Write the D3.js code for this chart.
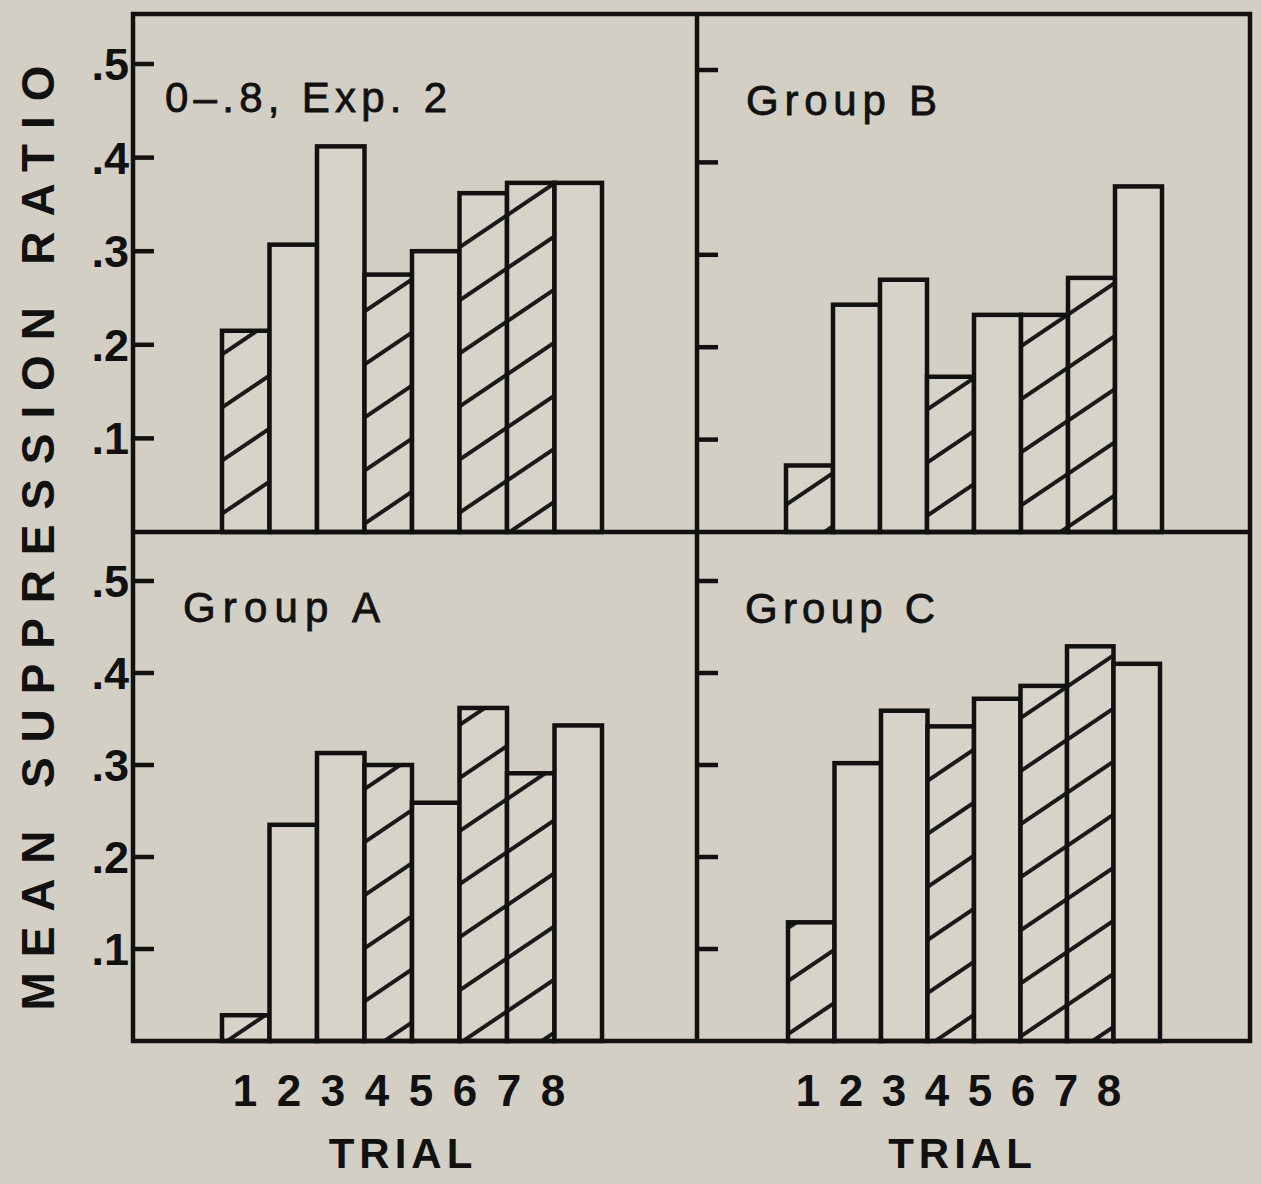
<!DOCTYPE html>
<html>
<head>
<meta charset="utf-8">
<script src="https://cdn.jsdelivr.net/npm/d3@7"></script>
<style>
  html, body { margin: 0; padding: 0; background: #d3cfc4; }
  svg { display: block; }
  text { font-family: "Liberation Sans", Arial, sans-serif; fill: #111; }
</style>
</head>
<body>
<svg id="chart" width="1261" height="1184"></svg>
<script>
// ---- data ----
const trials = [1, 2, 3, 4, 5, 6, 7, 8];
const panelTitles = ["0\u2013.8, Exp. 2", "Group B", "Group A", "Group C"];
const exp2Values   = [0.215, 0.307, 0.412, 0.275, 0.300, 0.362, 0.373, 0.373];
const groupBValues = [0.072, 0.246, 0.273, 0.168, 0.235, 0.235, 0.275, 0.374];
const groupAValues = [0.028, 0.235, 0.313, 0.300, 0.259, 0.362, 0.291, 0.343];
const groupCValues = [0.129, 0.302, 0.359, 0.342, 0.372, 0.386, 0.429, 0.410];
const hatchedTrials = [true, false, false, true, false, true, true, false];
const yTicks = [0.1, 0.2, 0.3, 0.4, 0.5];
const yTickLabels = [".1", ".2", ".3", ".4", ".5"];
const yAxisTitle = "MEAN SUPPRESSION RATIO";
const xAxisTitle = "TRIAL";

// ---- layout ----
const svg = d3.select("#chart");
const ink = "#111";
const bg = "#d3cfc4";
const barFill = "#d7d3c9";

const defs = svg.append("defs");
const pat = defs.append("pattern")
  .attr("id", "hatch")
  .attr("patternUnits", "userSpaceOnUse")
  .attr("width", 200).attr("height", 44)
  .attr("patternTransform", "rotate(-34)");
pat.append("rect").attr("width", 200).attr("height", 44).attr("fill", barFill);
pat.append("line").attr("x1", 0).attr("x2", 200).attr("y1", 22).attr("y2", 22)
  .attr("stroke", "#1a1a1a").attr("stroke-width", 4.2);

svg.append("rect").attr("width", 1261).attr("height", 1184).attr("fill", bg);

const frame = { left: 133, mid: 697, right: 1250, top: 14, midY: 532, bottom: 1041 };

const panels = [
  { title: panelTitles[0], values: exp2Values,   axisX: frame.left, x0: 222, x1: 602,  base: 532,  top5: 64,  titleX: 165, titleY: 112, titleW: 282, tickLabels: true,  lab0: 245, lab1: 553 },
  { title: panelTitles[1], values: groupBValues, axisX: frame.mid,  x0: 786, x1: 1162, base: 532,  top5: 70,  titleX: 746, titleY: 115, titleW: 191, tickLabels: false, lab0: 808, lab1: 1109 },
  { title: panelTitles[2], values: groupAValues, axisX: frame.left, x0: 222, x1: 602,  base: 1041, top5: 581, titleX: 183, titleY: 622, titleW: 197, tickLabels: true,  lab0: 245, lab1: 553, xAxis: true },
  { title: panelTitles[3], values: groupCValues, axisX: frame.mid,  x0: 788, x1: 1160, base: 1041, top5: 581, titleX: 745, titleY: 623, titleW: 190, tickLabels: false, lab0: 808, lab1: 1109, xAxis: true }
];

panels.forEach(p => {
  const y = d3.scaleLinear().domain([0, 0.5]).range([p.base, p.top5]);
  const x = d3.scaleBand().domain(trials).range([p.x0, p.x1]).padding(0);
  const g = svg.append("g");

  const bars = trials.map((t, i) => ({ t, v: p.values[i], h: hatchedTrials[i] }));
  g.selectAll("rect.bar").data(bars).join("rect")
    .attr("class", "bar")
    .attr("x", d => x(d.t))
    .attr("width", x.bandwidth())
    .attr("y", d => y(d.v))
    .attr("height", d => y(0) - y(d.v))
    .attr("fill", d => d.h ? "url(#hatch)" : barFill)
    .attr("stroke", ink)
    .attr("stroke-width", 4.5)
    .attr("stroke-linejoin", "miter");

  // ticks
  g.selectAll("line.tick").data(yTicks).join("line")
    .attr("x1", p.axisX).attr("x2", p.axisX + 21)
    .attr("y1", d => y(d)).attr("y2", d => y(d))
    .attr("stroke", ink).attr("stroke-width", 4.5);

  if (p.tickLabels) {
    g.selectAll("text.ylab").data(yTicks).join("text")
      .attr("x", 129).attr("y", d => y(d) + 16)
      .attr("text-anchor", "end")
      .attr("font-size", 45).attr("font-weight", "bold")
      .text((d, i) => yTickLabels[i]);
  }

  g.append("text")
    .attr("x", p.titleX).attr("y", p.titleY)
    .attr("font-size", 42)
    .attr("textLength", p.titleW).attr("lengthAdjust", "spacing")
    .attr("stroke", ink).attr("stroke-width", 0.8)
    .text(p.title);

  if (p.xAxis) {
    const xl = d3.scalePoint().domain(trials).range([p.lab0, p.lab1]);
    g.selectAll("text.xlab").data(trials).join("text")
      .attr("x", d => xl(d)).attr("y", 1106)
      .attr("text-anchor", "middle")
      .attr("font-size", 44).attr("font-weight", "bold")
      .text(d => d);
    g.append("text")
      .attr("x", (p.lab0 + p.lab1) / 2 + 4).attr("y", 1168)
      .attr("text-anchor", "middle")
      .attr("font-size", 42).attr("font-weight", "bold")
      .attr("letter-spacing", 5)
      .text(xAxisTitle);
  }
});

// frame
const fr = svg.append("g").attr("stroke", ink).attr("stroke-width", 4.5).attr("fill", "none");
fr.append("rect").attr("x", frame.left).attr("y", frame.top)
  .attr("width", frame.right - frame.left).attr("height", frame.bottom - frame.top);
fr.append("line").attr("x1", frame.mid).attr("x2", frame.mid).attr("y1", frame.top).attr("y2", frame.bottom);
fr.append("line").attr("x1", frame.left).attr("x2", frame.right).attr("y1", frame.midY).attr("y2", frame.midY);

// y axis title
svg.append("text")
  .attr("transform", "translate(54,538) rotate(-90)")
  .attr("text-anchor", "middle")
  .attr("font-size", 46).attr("font-weight", "bold")
  .attr("textLength", 945).attr("lengthAdjust", "spacing")
  .text(yAxisTitle);
</script>
</body>
</html>
